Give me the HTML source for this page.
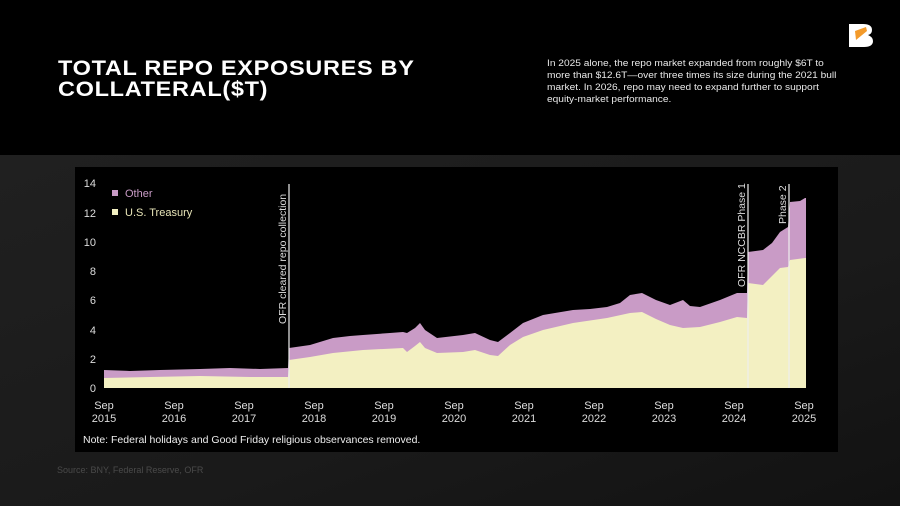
<!DOCTYPE html>
<html><head><meta charset="utf-8"><style>
html,body{margin:0;padding:0}
body{width:900px;height:506px;overflow:hidden;position:relative;background:#000;font-family:"Liberation Sans",sans-serif}
.low{position:absolute;left:0;top:155px;width:900px;height:351px;background:linear-gradient(160deg,#202020 0%,#1a1a1a 60%,#121212 100%)}
.title{position:absolute;left:58px;top:58px;color:#fff;font-weight:bold;font-size:21px;line-height:21px;letter-spacing:0.6px;transform:scaleX(1.12);transform-origin:left top}
.para{position:absolute;left:547px;top:57px;white-space:nowrap;color:#e8e8e8;font-size:9px;line-height:12px;transform:scaleX(1.13);transform-origin:left top}
.src{position:absolute;left:57px;top:465px;color:#4a4a4a;font-size:9px}
</style></head><body>
<div class="low"></div>
<div class="title">TOTAL REPO EXPOSURES BY<br>COLLATERAL($T)</div>
<div class="para">In 2025 alone, the repo market expanded from roughly $6T to<br>more than $12.6T—over three times its size during the 2021 bull<br>market. In 2026, repo may need to expand further to support<br>equity-market performance.</div>
<svg style="position:absolute;left:848px;top:22px" width="26" height="26" viewBox="0 0 26 26">
<path d="M1 2 H15 Q24 2 24 8 Q24 12 20 13 Q25 15 25 19 Q25 25 16 25 H1 Z" fill="#fff"/>
<path d="M7 9 L18 5 L19 9 L8 18 Z" fill="#f39a2a"/>
</svg>
<div class="src">Source: BNY, Federal Reserve, OFR</div>
<svg style="position:absolute;left:0;top:0" width="900" height="506">
<rect x="75" y="167" width="763" height="285" fill="#000"/>
<g font-family="Liberation Sans,sans-serif" font-size="11" fill="#ddd" text-anchor="end">
<text x="96" y="392">0</text><text x="96" y="363">2</text><text x="96" y="334">4</text><text x="96" y="304">6</text><text x="96" y="275">8</text><text x="96" y="246">10</text><text x="96" y="217">12</text><text x="96" y="187">14</text>
</g>
<polygon fill="#c99bc6" points="104,388 104,370 130,371 160,370 200,369 230,368 260,369 288,368 289,348 310,345 333,338 350,336 363,335 390,333 403,332 407,333 415,328 420,323 425,330 437,338 463,335 475,333 490,340 498,342 510,333 523,323 543,315 573,310 590,309 607,307 620,303 630,295 642,293 656,300 670,305 683,300 690,306 700,307 720,300 737,293 747,293 748,252 763,250 772,243 780,232 788,227 790,202 800,201 805,198 806,198 806,388"/>
<polygon fill="#f3f0c2" points="104,388 104,378 150,377 200,376 250,377 288,377 289,360 310,357 333,353 363,350 403,348 407,352 415,346 420,342 425,348 437,353 463,352 475,350 490,355 498,356 510,345 523,337 543,330 573,323 607,318 630,313 642,312 656,319 670,325 683,328 700,327 720,322 737,317 747,318 748,283 763,285 780,268 788,267 790,260 805,258 806,258 806,388"/>
<line x1="289" y1="184" x2="289" y2="388" stroke="#eee" stroke-width="1.2"/>
<line x1="748" y1="184" x2="748" y2="388" stroke="#eee" stroke-width="1.2"/>
<line x1="789" y1="184" x2="789" y2="388" stroke="#eee" stroke-width="1.2"/>
<g font-family="Liberation Sans,sans-serif" font-size="10.5" fill="#ddd">
<text transform="translate(286,324) rotate(-90)">OFR cleared repo collection</text>
<text transform="translate(745,287) rotate(-90)">OFR NCCBR Phase 1</text>
<text transform="translate(786,224) rotate(-90)">Phase 2</text>
</g>
<rect x="112" y="190" width="6" height="6" fill="#c99bc6"/>
<rect x="112" y="209" width="6" height="6" fill="#f3f0c2"/>
<g font-family="Liberation Sans,sans-serif" font-size="11" fill="#ddd">
<text x="125" y="197" fill="#c99bc6">Other</text>
<text x="125" y="216" fill="#e8e5b8">U.S. Treasury</text>
</g>
<g font-family="Liberation Sans,sans-serif" font-size="11" fill="#ddd" text-anchor="middle">
<text x="104" y="409">Sep</text><text x="104" y="422">2015</text>
<text x="174" y="409">Sep</text><text x="174" y="422">2016</text>
<text x="244" y="409">Sep</text><text x="244" y="422">2017</text>
<text x="314" y="409">Sep</text><text x="314" y="422">2018</text>
<text x="384" y="409">Sep</text><text x="384" y="422">2019</text>
<text x="454" y="409">Sep</text><text x="454" y="422">2020</text>
<text x="524" y="409">Sep</text><text x="524" y="422">2021</text>
<text x="594" y="409">Sep</text><text x="594" y="422">2022</text>
<text x="664" y="409">Sep</text><text x="664" y="422">2023</text>
<text x="734" y="409">Sep</text><text x="734" y="422">2024</text>
<text x="804" y="409">Sep</text><text x="804" y="422">2025</text>
</g>
<text x="83" y="443" font-family="Liberation Sans,sans-serif" font-size="10.5" fill="#eee">Note: Federal holidays and Good Friday religious observances removed.</text>
</svg>
</body></html>
